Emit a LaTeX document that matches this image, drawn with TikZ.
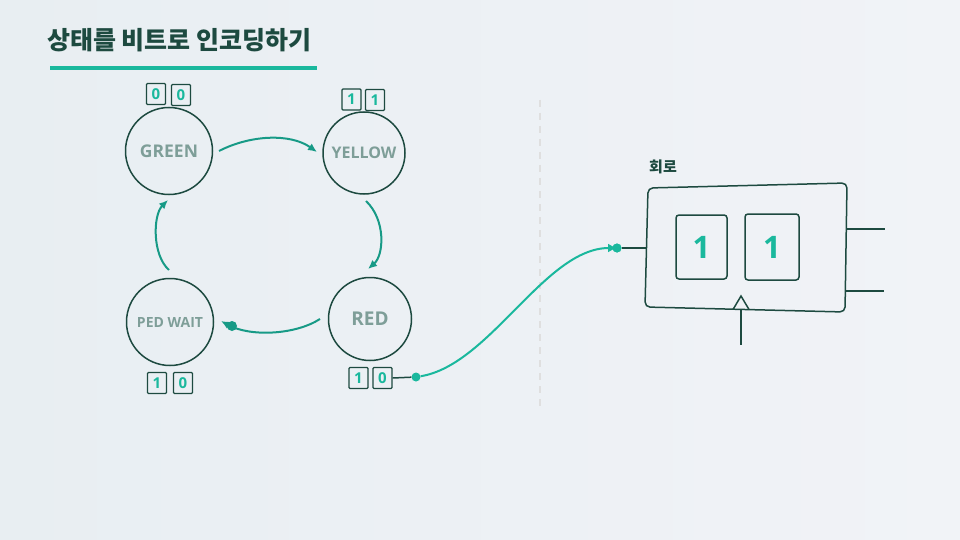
\documentclass[tikz,border=0pt]{standalone}
\usepackage{fontspec}
\setmainfont{Open Sans}
\newfontfamily\kor{Noto Sans CJK KR}
\usetikzlibrary{arrows.meta}

\definecolor{dark}{HTML}{1D4A40}
\definecolor{teal1}{HTML}{1AB89D}
\definecolor{teal2}{HTML}{179A86}
\definecolor{label}{HTML}{7E9E98}
\definecolor{bgA}{HTML}{E8EEF2}
\definecolor{bgB}{HTML}{F1F3F7}

\tikzset{
  state/.style={circle,draw=dark,line width=1.5pt,inner sep=0pt,text=label,font=\bfseries},
  bit/.style={draw=dark,line width=1.2pt,rounded corners=1pt,minimum width=19pt,minimum height=21pt,inner sep=0pt,text=teal1,font=\bfseries\fontsize{15}{15}\selectfont},
  trans/.style={draw=teal2,line width=2pt,-{Latex[length=9pt,width=8pt]}},
  wire/.style={draw=dark,line width=1.5pt},
  dot/.style={circle,fill=teal1,inner sep=0pt,minimum size=9pt}
}

\begin{document}
\begin{tikzpicture}[x=1pt,y=-1pt]

    \shade[left color=bgA,right color=bgB] (0,0) rectangle (960,540);
    \useasboundingbox (0,0) rectangle (960,540);

    \node[anchor=west,text=dark,inner sep=0pt] (title) at (47,40) {\kor\bfseries\fontsize{25}{25}\selectfont 상태를 비트로 인코딩하기};
    \draw[teal1,line width=4pt] (50,68) -- (317,68);

    \node[state,minimum size=87pt,font=\bfseries\fontsize{17.5}{17.5}\selectfont] (green) at (169,151) {GREEN};
    \node[state,minimum size=82pt,font=\bfseries\fontsize{16}{16}\selectfont] (yellow) at (364,153) {YELLOW};
    \node[state,minimum size=87pt,font=\bfseries\fontsize{14}{14}\selectfont] (pedwait) at (170,322) {PED WAIT};
    \node[state,minimum size=83pt,font=\bfseries\fontsize{19}{19}\selectfont] (red) at (370,319) {RED};

    \node[bit] (g0) at (156,94) {0};
    \node[bit] (g1) at (181,95) {0};
    \node[bit] (y0) at (351.5,99.5) {1};
    \node[bit] (y1) at (375,100) {1};
    \node[bit] (p0) at (157,383) {1};
    \node[bit] (p1) at (183,383) {0};
    \node[bit] (r0) at (358.5,378) {1};
    \node[bit] (r1) at (382.5,378) {0};

    \coordinate (gy1) at (219,151);
    \coordinate (gy2) at (317,152);
    \coordinate (yr1) at (366,201);
    \coordinate (yr2) at (368,269);
    \coordinate (rp1) at (320,319);
    \coordinate (rp2) at (221,321);
    \coordinate (pg1) at (169,270);
    \coordinate (pg2) at (168,200);
    \path[trans] (gy1) .. controls (250,135) and (290,133) .. (gy2);
    \path[trans] (yr1) .. controls (386,220) and (384,255) .. (yr2);
    \path[trans] (rp1) .. controls (295,335) and (250,337) .. (rp2);
    \path[trans] (pg1) .. controls (152,255) and (153,215) .. (pg2);
    \node[dot,fill=teal2,minimum size=10pt] (pdot) at (232,326) {};

    \draw[gray!25,line width=2pt,dash pattern=on 7pt off 6pt] (540,100) -- (540,408);

    \node[dot] (out) at (416,377) {};
    \draw[wire] (r1.east) -- (out);

    \node[anchor=west,text=dark,inner sep=0pt] (circ) at (649,167) {\kor\bfseries\fontsize{15}{15}\selectfont 회로};
    \draw[wire,rounded corners=5pt] (648,188) -- (847,183) -- (845,312) -- (645,307) -- cycle;
    \node[draw=dark,line width=1.5pt,rounded corners=3pt,minimum width=51pt,minimum height=64pt,text=teal1,font=\bfseries\fontsize{31}{31}\selectfont] (reg0) at (701.5,247) {1};
    \node[draw=dark,line width=1.5pt,rounded corners=3pt,minimum width=54pt,minimum height=66pt,text=teal1,font=\bfseries\fontsize{31}{31}\selectfont] (reg1) at (772,247) {1};

    \node[dot] (in) at (617,248) {};
    \draw[wire] (in) -- (645.5,248);
    \draw[teal1,line width=2pt,-{Latex[length=9pt,width=9pt]}] (out) .. controls (490,365) and (545,248) .. (in.center);
    \fill[teal1] (in) circle (4.5pt);

    \coordinate (q0) at (885,229);
    \coordinate (q1) at (884,291);
    \draw[wire] (847,229) -- (q0);
    \draw[wire] (846,291) -- (q1);

    \coordinate (clk) at (741,345);
    \draw[wire,line join=miter] (733,309.5) -- (741,296) -- (749,309.5);
    \draw[wire] (741,309.5) -- (clk);

\end{tikzpicture}
\end{document}
